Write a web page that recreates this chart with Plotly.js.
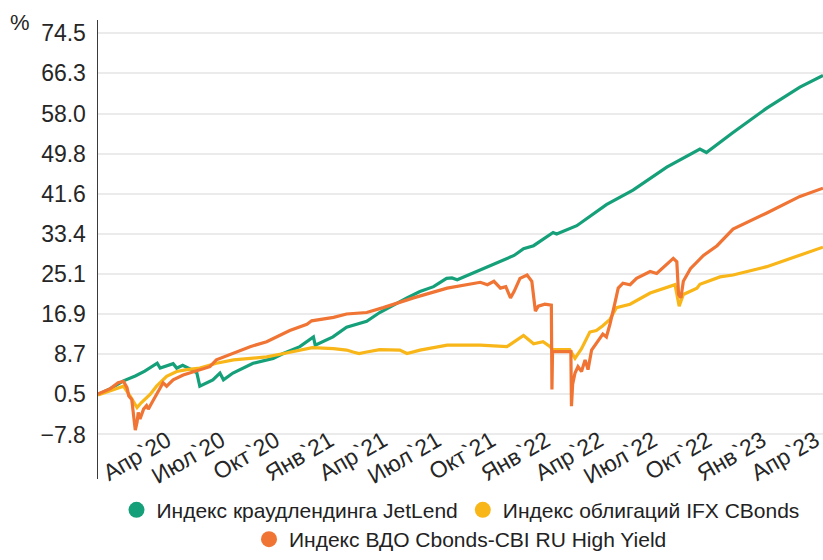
<!DOCTYPE html>
<html>
<head>
<meta charset="utf-8">
<script src="https://cdn.plot.ly/plotly-3.0.1.min.js"></script>
<style>html,body{margin:0;padding:0;background:#fff;}#chart{width:823px;height:560px;}</style>
</head>
<body>
<div id="chart"></div>
<script>
// ---- Data ----
const seriesNames = ["Индекс краудлендинга JetLend", "Индекс облигаций IFX CBonds", "Индекс ВДО Cbonds-CBI RU High Yield"];

const jetlendDates = ['2020-01-19','2020-02-09','2020-03-02','2020-03-22','2020-04-07','2020-04-28','2020-05-03','2020-05-14','2020-05-25','2020-05-31','2020-06-10','2020-06-25','2020-07-04','2020-07-09','2020-07-20','2020-07-31','2020-08-12','2020-08-18','2020-09-03','2020-09-15','2020-10-07','2020-11-10','2020-11-27','2020-12-25','2021-01-14','2021-01-17','2021-01-20','2021-02-19','2021-03-14','2021-04-17','2021-05-09','2021-06-12','2021-06-24','2021-07-16','2021-08-08','2021-08-30','2021-09-08','2021-09-17','2021-10-26','2021-11-29','2021-12-22','2022-01-07','2022-01-24','2022-02-26','2022-03-04','2022-04-07','2022-05-27','2022-07-11','2022-09-06','2022-11-01','2022-11-12','2022-12-27','2023-02-22','2023-04-19','2023-05-28'];
const jetlendValues = [0.4,1.6,3.2,4.2,5.2,6.8,5.8,6.2,6.7,5.8,6.4,5.5,4.8,2.1,2.8,3.4,4.8,3.4,4.8,5.5,6.8,7.8,8.8,10.2,11.8,12.2,10.5,12.2,14.2,15.4,17.2,19.5,20.2,21.5,22.5,24.2,24.3,23.9,25.9,27.6,28.9,30.3,30.9,33.6,33.3,35.0,39.3,42.3,47.0,50.7,50.0,54.1,59.1,63.4,65.8];

const ifxDates = ['2020-01-19','2020-02-09','2020-03-02','2020-03-13','2020-03-22','2020-03-25','2020-04-01','2020-04-16','2020-04-27','2020-05-14','2020-05-31','2020-06-17','2020-07-09','2020-08-06','2020-09-04','2020-10-30','2020-11-28','2020-12-27','2021-01-15','2021-02-20','2021-03-14','2021-03-25','2021-04-04','2021-04-17','2021-05-09','2021-06-12','2021-06-24','2021-07-16','2021-08-31','2021-10-26','2021-12-10','2022-01-07','2022-01-24','2022-02-09','2022-02-21','2022-02-25','2022-03-26','2022-04-04','2022-04-15','2022-04-29','2022-05-10','2022-05-21','2022-06-02','2022-06-13','2022-07-06','2022-08-09','2022-09-12','2022-09-20','2022-09-27','2022-10-04','2022-10-27','2022-11-01','2022-12-05','2022-12-27','2023-02-22','2023-04-19','2023-05-28'];
const ifxValues = [0.3,1.2,2.1,0.1,-1.9,-2.3,-1.3,0.4,2.1,4.1,5.1,5.5,5.8,6.8,7.5,8.1,8.8,9.5,10.0,9.8,9.5,9.1,8.8,9.1,9.6,9.5,8.8,9.5,10.5,10.5,10.2,12.5,10.8,11.2,10.2,9.6,9.6,7.8,9.8,13.2,13.5,14.5,15.8,18.2,18.9,21.2,22.5,22.9,18.5,20.9,22.2,23.0,24.5,24.9,26.6,28.9,30.6];

const hyDates = ['2020-01-19','2020-02-09','2020-02-22','2020-03-02','2020-03-08','2020-03-11','2020-03-16','2020-03-19','2020-03-22','2020-03-25','2020-03-27','2020-03-30','2020-04-05','2020-04-10','2020-04-13','2020-04-19','2020-04-27','2020-05-08','2020-05-14','2020-05-25','2020-06-11','2020-06-28','2020-07-26','2020-08-06','2020-09-04','2020-10-02','2020-10-30','2020-11-16','2020-12-08','2021-01-06','2021-01-14','2021-02-20','2021-03-14','2021-04-17','2021-05-15','2021-07-05','2021-08-31','2021-10-26','2021-11-07','2021-11-18','2021-11-29','2021-12-08','2021-12-16','2021-12-22','2022-01-01','2022-01-13','2022-01-21','2022-01-27','2022-02-01','2022-02-12','2022-02-23','2022-02-24','2022-02-25','2022-03-28','2022-03-29','2022-03-31','2022-04-04','2022-04-09','2022-04-15','2022-04-21','2022-04-26','2022-05-02','2022-05-10','2022-05-21','2022-05-27','2022-06-02','2022-06-10','2022-06-16','2022-06-24','2022-07-06','2022-07-17','2022-08-09','2022-08-20','2022-09-06','2022-09-17','2022-09-23','2022-09-26','2022-09-30','2022-10-04','2022-10-16','2022-11-07','2022-11-30','2022-12-27','2023-02-22','2023-04-19','2023-05-28'];
const hyValues = [0.5,1.6,2.8,3.1,1.8,0.1,-0.6,-3.3,-6.9,-5.3,-3.3,-4.6,-2.6,-1.9,-2.6,-1.3,0.4,2.8,2.1,3.4,4.4,5.1,6.1,7.5,8.8,10.2,11.2,12.2,13.5,14.8,15.5,16.2,16.9,17.2,18.2,20.2,22.2,23.4,22.9,23.6,22.2,22.5,20.2,21.5,24.2,24.9,23.6,17.5,18.5,18.9,18.7,1.4,9.2,9.2,-2.0,2.5,4.8,6.1,5.1,7.5,5.5,9.5,10.8,12.8,12.2,14.8,18.9,22.2,23.2,22.9,24.2,25.6,25.2,27.2,28.3,27.6,20.9,20.2,23.6,26.2,28.9,30.9,34.3,37.6,41.0,42.7];

const yTickVals = [-7.8, 0.5, 8.7, 16.9, 25.1, 33.4, 41.6, 49.8, 58.0, 66.3, 74.5];
const yTickText = ['\u22127.8','0.5','8.7','16.9','25.1','33.4','41.6','49.8','58.0','66.3','74.5'];
const xTickVals = ['2020-04-01','2020-07-01','2020-10-01','2021-01-01','2021-04-01','2021-07-01','2021-10-01','2022-01-01','2022-04-01','2022-07-01','2022-10-01','2023-01-01','2023-04-01'];
const xTickText = ['Апр`20','Июл`20','Окт`20','Янв`21','Апр`21','Июл`21','Окт`21','Янв`22','Апр`22','Июл`22','Окт`22','Янв`23','Апр`23'];

const colors = {green:'#16a07a', yellow:'#f8b619', orange:'#f07434'};
const FONT = 'Liberation Sans, Arial, sans-serif';

const traces = [
  {x: jetlendDates, y: jetlendValues, type:'scatter', mode:'lines', name: seriesNames[0], line:{color:colors.green, width:3.2}, showlegend:false},
  {x: ifxDates, y: ifxValues, type:'scatter', mode:'lines', name: seriesNames[1], line:{color:colors.yellow, width:3.2}, showlegend:false},
  {x: hyDates, y: hyValues, type:'scatter', mode:'lines', name: seriesNames[2], line:{color:colors.orange, width:3.2}, showlegend:false},
  // legend entries (circle symbols)
  {x:[null], y:[null], type:'scatter', mode:'markers', name: seriesNames[0], marker:{color:colors.green, size:18}, legend:'legend'},
  {x:[null], y:[null], type:'scatter', mode:'markers', name: seriesNames[1], marker:{color:colors.yellow, size:18}, legend:'legend'},
  {x:[null], y:[null], type:'scatter', mode:'markers', name: seriesNames[2], marker:{color:colors.orange, size:18}, legend:'legend2'}
];

const layout = {
  width: 823, height: 560,
  margin: {l: 98, r: 0, t: 20, b: 72, pad: 0},
  paper_bgcolor: '#ffffff', plot_bgcolor: '#ffffff',
  font: {family: FONT, size: 23, color: '#262626'},
  xaxis: {
    type: 'date',
    range: ['2020-01-19', '2023-05-28'],
    tickmode: 'array', tickvals: xTickVals, ticktext: xTickText,
    tickangle: -30, showgrid: false, zeroline: false, showline: false,
    ticks: '', ticklabelshift: 26, ticklabelstandoff: -57, ticklabeloverflow: 'allow',
    tickfont: {family: FONT, size: 23, color: '#262626'}
  },
  yaxis: {
    range: [-16.93, 77.17],
    tickmode: 'array', tickvals: yTickVals, ticktext: yTickText,
    showgrid: true, gridcolor: '#ebebeb', gridwidth: 2,
    zeroline: false, showline: true, linecolor: '#3a3a3a', linewidth: 1.5,
    ticks: '', ticklabelstandoff: 6,
    tickfont: {family: FONT, size: 23, color: '#262626'}
  },
  legend: {orientation: 'h', x: 0.5, xanchor: 'center', y: -0.068, yanchor: 'middle',
    font: {family: FONT, size: 21, color: '#222'}, bgcolor: 'rgba(0,0,0,0)', itemwidth: 30},
  legend2: {orientation: 'h', x: 0.5, xanchor: 'center', y: -0.1325, yanchor: 'middle',
    font: {family: FONT, size: 21, color: '#222'}, bgcolor: 'rgba(0,0,0,0)', itemwidth: 30},
  annotations: [
    {text: '%', xref: 'paper', yref: 'paper', x: -0.1076, y: 0.9936, xanchor: 'center', yanchor: 'middle',
     showarrow: false, font: {family: FONT, size: 22, color: '#262626'}}
  ]
};

Plotly.newPlot('chart', traces, layout, {displayModeBar: false, staticPlot: true});
</script>
</body>
</html>
